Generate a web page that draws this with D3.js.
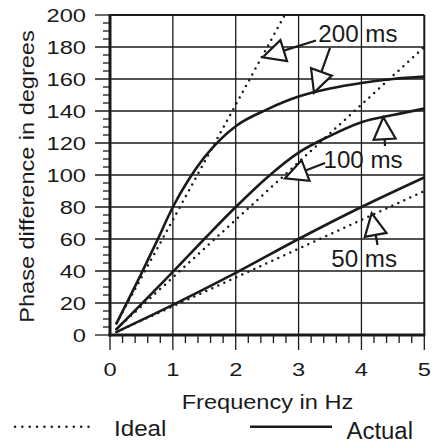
<!DOCTYPE html>
<html>
<head>
<meta charset="UTF-8">
<title>Phase difference vs frequency</title>
<script src="https://d3js.org/d3.v7.min.js"></script>
<style>
  body { margin: 0; background: #fff; }
  text { font-family: "Liberation Sans", Arial, sans-serif; fill: #1a1a1a; }
</style>
</head>
<body>
<div id="chart"></div>
<script>
// ticks
var freqTicks = [0, 1, 2, 3, 4, 5];
var phaseTicks = [0, 20, 40, 60, 80, 100, 120, 140, 160, 180, 200];

// ideal (dotted) lines, one per delay
var delays = ['50 ms', '100 ms', '200 ms'];
var idealFreq = [[0.1, 5], [0.1, 5], [0.1, 2.78]];
var idealPhase = [[1.8, 90], [3.6, 180], [7.2, 200]];

// actual (solid) curves
var actualFreq50 = [0.1, 1, 2, 3, 4, 5];
var actualPhase50 = [1.8, 18.8, 38.8, 60, 80, 98.5];
var actualFreq100 = [0.1, 1, 1.5, 2, 2.5, 3, 3.5, 4, 4.5, 5];
var actualPhase100 = [3.5, 39.5, 60, 80, 98.5, 114, 124.5, 133, 137.5, 141.5];
var actualFreq200 = [0.1, 0.5, 0.75, 1, 1.25, 1.5, 1.75, 2, 2.5, 3, 3.5, 4, 4.5, 5];
var actualPhase200 = [7, 38.5, 59, 80, 97, 111, 122, 130.5, 141, 149, 154, 157.5, 160, 161.5];

// annotation arrows (data units): tip and tail end
var arrowTips = [[2.43, 173.6], [3.245, 151.5], [4.348, 136.1], [2.784, 97.9], [4.163, 76.1]];
var arrowTails = [[3.277, 184.1], [3.5, 179.4], [4.375, 118.1], [3.421, 107.5], [4.256, 56.25]];
var labelText = ['200 ms', '100 ms', '50 ms'];
var labelPos = [[3.314, 183.1], [3.396, 104.4], [3.52, 42.5]];

(function (d3) {
  var W = 443, H = 448;
  var svg = d3.select('#chart').append('svg').attr('width', W).attr('height', H);

  var x = d3.scaleLinear().domain([0, 5]).range([110, 424.3]);
  var y = d3.scaleLinear().domain([0, 200]).range([335, 15]);
  var ink = '#1a1a1a';

  function label(x0, y0, str, size, sx, anchor, rot) {
    var g = svg.append('g').attr('transform', 'translate(' + x0 + ',' + y0 + ')' +
      (rot ? ' rotate(' + rot + ')' : '') + ' scale(' + sx + ',1)');
    g.append('text').attr('text-anchor', anchor).style('font-size', size + 'px').text(str);
  }

  // grid + major ticks
  var grid = svg.append('g').attr('stroke', ink).attr('stroke-width', 1.3);
  freqTicks.forEach(function (f) {
    grid.append('line').attr('x1', x(f)).attr('x2', x(f))
      .attr('y1', (f === 0 || f === 5) ? y(0) : y(200)).attr('y2', y(0) + 15);
  });
  phaseTicks.forEach(function (p) {
    grid.append('line').attr('y1', y(p)).attr('y2', y(p))
      .attr('x1', x(0) - 15).attr('x2', (p === 0 || p === 200) ? x(0) : x(5));
  });

  // minor ticks
  d3.range(0, 5.001, 0.2).forEach(function (f) {
    if (Math.abs(f - Math.round(f)) < 1e-6) return;
    grid.append('line').attr('x1', x(f)).attr('x2', x(f)).attr('y1', y(0)).attr('y2', y(0) + 8);
  });
  d3.range(0, 201, 5).forEach(function (p) {
    if (p % 20 === 0) return;
    grid.append('line').attr('y1', y(p)).attr('y2', y(p)).attr('x1', x(0) - 7).attr('x2', x(0));
  });

  // frame
  svg.append('line').attr('x1', x(0)).attr('x2', x(5)).attr('y1', y(200)).attr('y2', y(200))
    .attr('stroke', ink).attr('stroke-width', 2);
  svg.append('line').attr('x1', x(5)).attr('x2', x(5)).attr('y1', y(200)).attr('y2', y(0))
    .attr('stroke', ink).attr('stroke-width', 2);

  var line = d3.line().x(function (d) { return x(d[0]); }).y(function (d) { return y(d[1]); });
  var smooth = d3.line().curve(d3.curveMonotoneX)
    .x(function (d) { return x(d[0]); }).y(function (d) { return y(d[1]); });

  // ideal dotted lines
  delays.forEach(function (name, i) {
    var pts = d3.zip(idealFreq[i], idealPhase[i]);
    svg.append('path').attr('d', line(pts)).attr('fill', 'none').attr('stroke', ink)
      .attr('stroke-width', 2.5).attr('stroke-dasharray', '0,6.6').attr('stroke-linecap', 'round');
  });

  // actual solid curves
  [[actualFreq50, actualPhase50], [actualFreq100, actualPhase100], [actualFreq200, actualPhase200]]
    .forEach(function (s) {
      svg.append('path').attr('d', smooth(d3.zip(s[0], s[1]))).attr('fill', 'none')
        .attr('stroke', ink).attr('stroke-width', 2.6);
    });

  // axes
  svg.append('line').attr('x1', x(0)).attr('x2', x(0)).attr('y1', y(200) - 1).attr('y2', y(0) + 1.5)
    .attr('stroke', ink).attr('stroke-width', 3);
  svg.append('line').attr('x1', x(0) - 1.5).attr('x2', x(5) + 1).attr('y1', y(0)).attr('y2', y(0))
    .attr('stroke', ink).attr('stroke-width', 3);

  // arrows
  arrowTips.forEach(function (tip, i) {
    var T = [x(tip[0]), y(tip[1])], E = [x(arrowTails[i][0]), y(arrowTails[i][1])];
    var dx = T[0] - E[0], dy = T[1] - E[1], len = Math.sqrt(dx * dx + dy * dy);
    var ux = dx / len, uy = dy / len;
    var B = [T[0] - ux * 22, T[1] - uy * 22];
    var c1 = [B[0] - uy * 11, B[1] + ux * 11], c2 = [B[0] + uy * 11, B[1] - ux * 11];
    svg.append('line').attr('x1', E[0]).attr('y1', E[1]).attr('x2', B[0]).attr('y2', B[1])
      .attr('stroke', ink).attr('stroke-width', 2.2);
    svg.append('path').attr('d', 'M' + T + 'L' + c1 + 'L' + c2 + 'Z')
      .attr('fill', '#fff').attr('stroke', ink).attr('stroke-width', 2.2).attr('stroke-linejoin', 'miter');
  });

  labelText.forEach(function (t, i) {
    label(x(labelPos[i][0]), y(labelPos[i][1]), t, 23, 1.05, 'start');
  });

  // tick labels
  freqTicks.forEach(function (f) { label(x(f), 376, f, 18.5, 1.28, 'middle'); });
  phaseTicks.forEach(function (p) { label(86, y(p) + 6.6, p, 18.5, 1.28, 'end'); });

  // axis titles
  label(267.5, 409, 'Frequency in Hz', 20, 1.18, 'middle');
  label(33.5, 176.5, 'Phase difference in degrees', 21, 1.12, 'middle', -90);

  // legend
  svg.append('line').attr('x1', 15).attr('x2', 88.5).attr('y1', 426.7).attr('y2', 426.7)
    .attr('stroke', ink).attr('stroke-width', 2.5).attr('stroke-dasharray', '0,7.35').attr('stroke-linecap', 'round');
  label(114, 436, 'Ideal', 22, 1.1, 'start');
  svg.append('line').attr('x1', 250).attr('x2', 332).attr('y1', 426.7).attr('y2', 426.7)
    .attr('stroke', ink).attr('stroke-width', 2.6);
  label(346.5, 439, 'Actual', 23, 1.04, 'start');
})(window.d3);
</script>
</body>
</html>
